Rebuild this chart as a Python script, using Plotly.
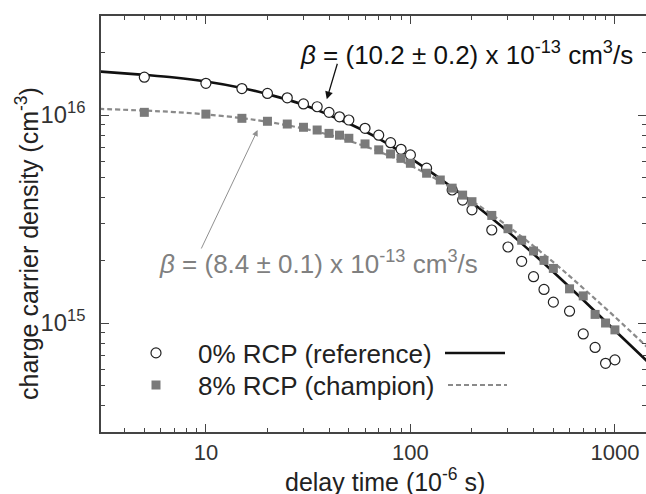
import math
import plotly.graph_objects as go

# ---- data ----
t_ref = [5, 10, 15, 20, 25, 30, 35, 40, 45, 50, 60, 70, 80, 90, 100, 120, 160, 180, 200,
         250, 300, 350, 400, 450, 500, 600, 700, 800, 900, 1000]
n_ref = [1.52e16, 1.42e16, 1.34e16, 1.27e16, 1.21e16, 1.13e16, 1.096e16, 1.03e16, 0.98e16, 0.946e16,
         0.863e16, 0.80e16, 0.736e16, 0.684e16, 0.643e16, 0.555e16, 4.36e15, 3.90e15, 3.50e15,
         2.80e15, 2.32e15, 1.98e15, 1.67e15, 1.45e15, 1.26e15, 1.14e15, 8.86e14, 7.63e14, 6.40e14, 6.65e14]

t_champ = [5, 10, 15, 20, 25, 30, 35, 40, 45, 50, 60, 70, 80, 90, 100, 120, 140, 160, 180, 200,
           250, 300, 350, 400, 450, 500, 600, 700, 800, 900, 1000]
n_champ = [1.03e16, 1.01e16, 0.964e16, 0.933e16, 0.905e16, 0.873e16, 0.847e16, 0.816e16, 0.80e16, 0.773e16,
           0.726e16, 0.68e16, 0.65e16, 0.619e16, 0.586e16, 0.525e16, 0.487e16, 0.445e16, 0.412e16, 0.383e16,
           3.29e15, 2.84e15, 2.50e15, 2.22e15, 2.0e15, 1.83e15, 1.46e15, 1.35e15, 1.10e15, 1.0e15, 9.27e14]

t_fit = [3, 5, 7, 10, 15, 20, 30, 40, 50, 70, 100, 150, 200, 300, 500, 700, 1000, 1450]
n_fit_ref = [1.62e16, 1.56e16, 1.515e16, 1.45e16, 1.35e16, 1.26e16, 1.12e16, 1.0e16, 0.91e16, 0.77e16,
             6.2e15, 4.7e15, 3.8e15, 2.75e15, 1.76e15, 1.29e15, 9.2e14, 6.5e14]
n_fit_champ = [1.07e16, 1.05e16, 1.033e16, 1.007e16, 0.966e16, 0.928e16, 0.861e16, 0.803e16, 0.752e16, 0.668e16,
               5.72e15, 4.61e15, 3.86e15, 2.92e15, 1.96e15, 1.47e15, 1.07e15, 7.6e14]

legend_names = ["0% RCP (reference)", "8% RCP (champion)"]
beta_ref_text = "<i>β</i> = (10.2 ± 0.2) x 10<sup>-13</sup> cm<sup>3</sup>/s"
beta_champ_text = "<i>β</i> = (8.4 ± 0.1) x 10<sup>-13</sup> cm<sup>3</sup>/s"

FONT = "Liberation Sans, Arial, sans-serif"
GRAY = "#7a7a7a"
AX = "#444444"

fig = go.Figure()

fig.add_trace(go.Scatter(x=t_fit, y=n_fit_ref, mode="lines", line=dict(color="#111111", width=2.6, shape="spline"),
                         showlegend=False, hoverinfo="skip"))
fig.add_trace(go.Scatter(x=t_fit, y=n_fit_champ, mode="lines",
                         line=dict(color="#8a8a8a", width=2.2, dash="5px,3px", shape="spline"),
                         showlegend=False, hoverinfo="skip"))
fig.add_trace(go.Scatter(x=t_ref, y=n_ref, mode="markers", name=legend_names[0], legend="legend",
                         marker=dict(symbol="circle", size=10, color="white", line=dict(color="#222222", width=1.2))))
fig.add_trace(go.Scatter(x=t_champ, y=n_champ, mode="markers", name=legend_names[1], legend="legend2",
                         marker=dict(symbol="square", size=9, color=GRAY, line=dict(width=0))))

axis_common = dict(type="log", showline=True, linecolor=AX, linewidth=1.5, mirror="ticks",
                   ticks="inside", ticklen=8, tickwidth=1.2, tickcolor=AX, dtick=1, automargin=False,
                   minor=dict(ticks="inside", ticklen=4, tickwidth=1, tickcolor=AX, showgrid=False),
                   showgrid=False, zeroline=False)

fig.update_xaxes(**axis_common, range=[math.log10(3.07), math.log10(1419)], exponentformat="none",
                 ticklabelstandoff=0, tickfont=dict(family=FONT, size=22, color="#333333"))
fig.update_yaxes(**axis_common, range=[14.476, 16.476], exponentformat="power", ticklabelstandoff=10,
                 tickfont=dict(family=FONT, size=19, color="#333333"))

def px2paper_x(px):
    return (px - 101) / 545

def px2paper_y(py):
    return (432 - py) / 416

txt = dict(xref="paper", yref="paper", showarrow=False, xanchor="center", yanchor="middle")
annotations = [
    dict(text="delay time (10<sup>-6</sup> s)", x=px2paper_x(385), y=px2paper_y(480),
         font=dict(family=FONT, size=25, color="#222222"), **txt),
    dict(text="charge carrier density (cm<sup>-3</sup>)", x=px2paper_x(27),
         y=px2paper_y(244), textangle=-90, font=dict(family=FONT, size=25, color="#222222"), **txt),
    dict(text=beta_ref_text, x=px2paper_x(466), y=px2paper_y(53),
         font=dict(family=FONT, size=26, color="#111111"), **txt),
    dict(text=beta_champ_text, x=px2paper_x(318), y=px2paper_y(262),
         font=dict(family=FONT, size=26, color="#808080"), **txt),
    dict(text="", x=math.log10(39), y=math.log10(1.19e16), xref="x", yref="y", showarrow=True,
         ax=11, ay=-37, arrowhead=2, arrowsize=1.2, arrowwidth=1.3, arrowcolor="#111111"),
    dict(text="", x=math.log10(17.9), y=math.log10(8.47e15), xref="x", yref="y", showarrow=True,
         ax=-57, ay=120, arrowhead=2, arrowsize=1.2, arrowwidth=1.0, arrowcolor="#909090"),
]

shapes = [
    dict(type="line", xref="paper", yref="paper", x0=px2paper_x(445), x1=px2paper_x(505),
         y0=px2paper_y(353), y1=px2paper_y(353), line=dict(color="#111111", width=2.6)),
    dict(type="line", xref="paper", yref="paper", x0=px2paper_x(448), x1=px2paper_x(507),
         y0=px2paper_y(385), y1=px2paper_y(385), line=dict(color="#8a8a8a", width=2.2, dash="5px,3px")),
]

leg_common = dict(xanchor="left", yanchor="middle", bgcolor="rgba(0,0,0,0)",
                  font=dict(family=FONT, size=26, color="#222222"), itemwidth=74)

fig.update_layout(
    width=646, height=494,
    margin=dict(l=101, r=0, t=16, b=62, autoexpand=False),
    plot_bgcolor="white", paper_bgcolor="white",
    font=dict(family=FONT, color="#222222"),
    annotations=annotations, shapes=shapes,
    legend=dict(x=px2paper_x(114), y=px2paper_y(353), **leg_common),
    legend2=dict(x=px2paper_x(114), y=px2paper_y(385), **leg_common),
)

fig.write_html("out.html", config={"displayModeBar": False},
               post_script="document.body.style.margin='0';document.body.style.overflow='hidden';")
